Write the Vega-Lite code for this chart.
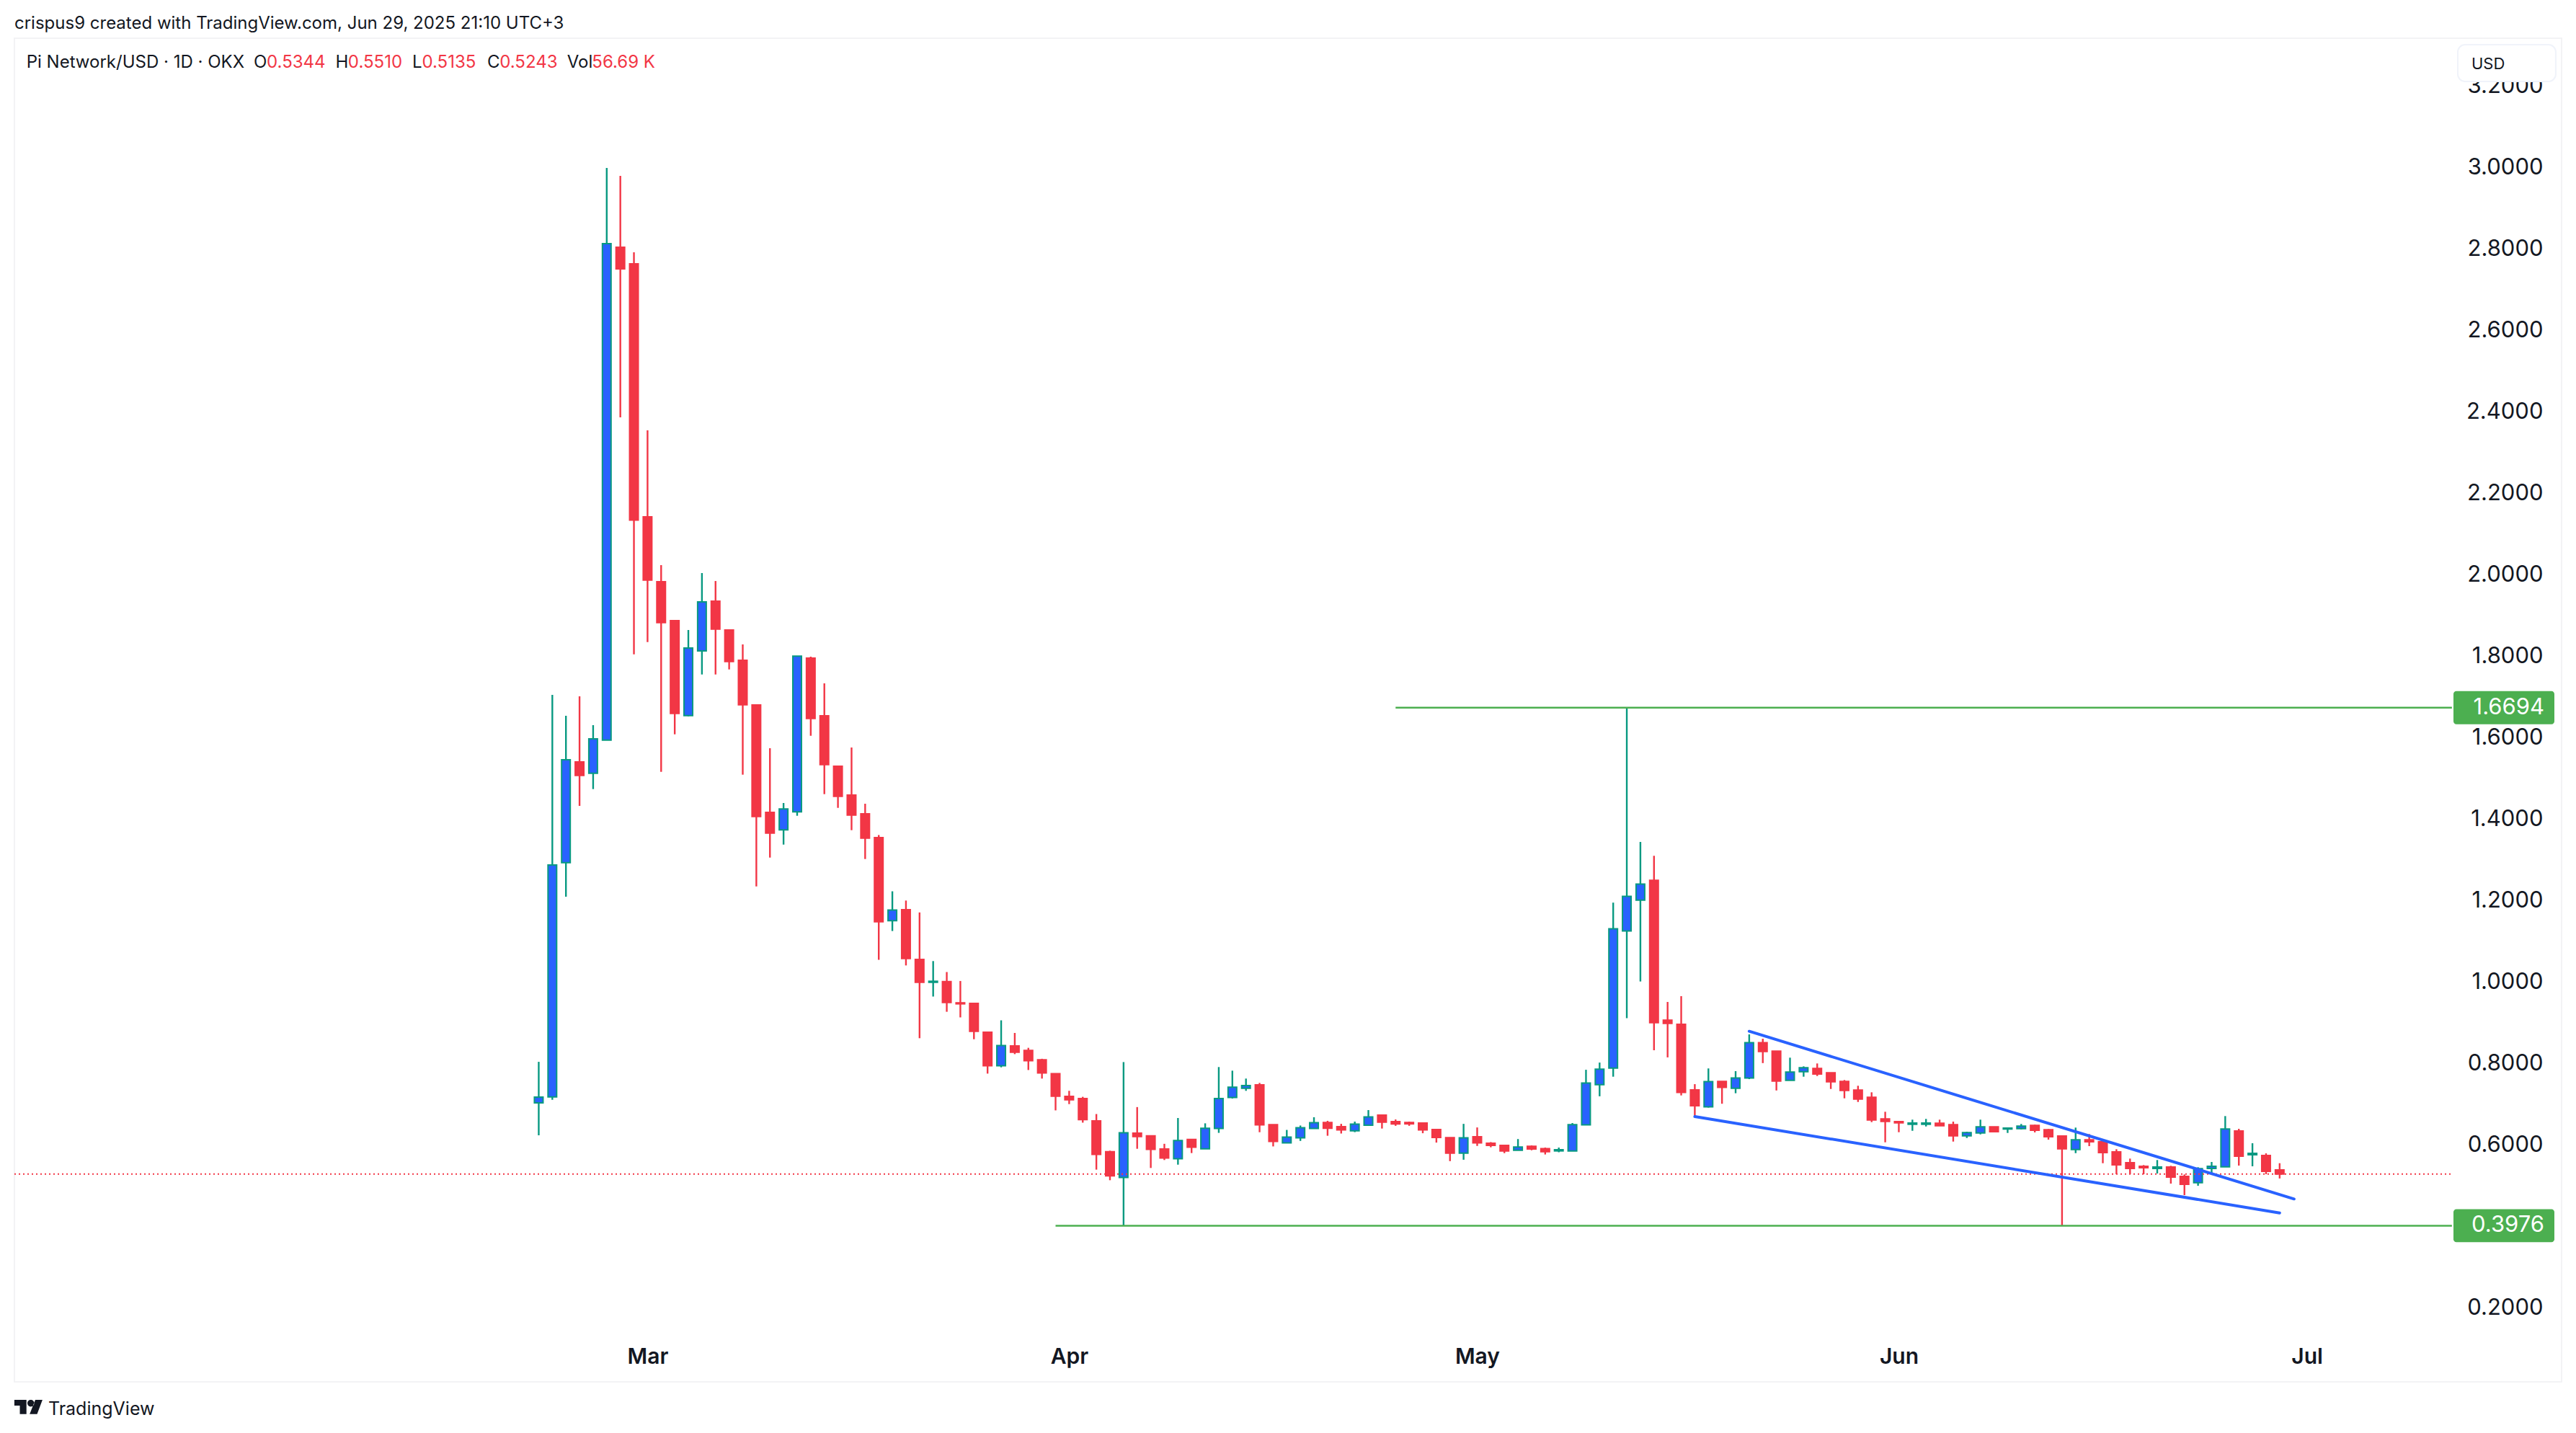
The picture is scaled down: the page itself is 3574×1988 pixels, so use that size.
{
  "$schema": "https://vega.github.io/schema/vega-lite/v6.json",
  "autosize": {"type": "none"},
  "padding": {"left": 20, "top": 53, "right": 20, "bottom": 71},
  "width": 3534,
  "height": 1864,
  "background": "#ffffff",
  "title": {
    "text": "crispus9 created with TradingView.com, Jun 29, 2025 21:10 UTC+3",
    "anchor": "start",
    "frame": "group",
    "offset": 8,
    "font": "Inter",
    "fontSize": 24,
    "fontWeight": 400,
    "color": "#131722"
  },
  "config": {
    "view": {"stroke": "#F3F3F5", "strokeWidth": 2, "fill": "#ffffff"},
    "text": {"font": "Inter"}
  },
  "datasets": {
    "candles": [
      {"d":"2025-02-21","open":0.6991,"high":0.7999,"low":0.6195,"close":0.7133},
      {"d":"2025-02-22","open":0.7138,"high":1.7009,"low":0.7067,"close":1.2832},
      {"d":"2025-02-23","open":1.2890,"high":1.6496,"low":1.2053,"close":1.5416},
      {"d":"2025-02-24","open":1.5363,"high":1.6974,"low":1.4283,"close":1.5032},
      {"d":"2025-02-25","open":1.5085,"high":1.6266,"low":1.4696,"close":1.5929},
      {"d":"2025-02-26","open":1.5899,"high":2.9947,"low":1.5899,"close":2.8089},
      {"d":"2025-02-27","open":2.8002,"high":2.9752,"low":2.3823,"close":2.7469},
      {"d":"2025-02-28","open":2.7593,"high":2.7876,"low":1.8005,"close":2.1301},
      {"d":"2025-03-01","open":2.1381,"high":2.3504,"low":1.8306,"close":1.9828},
      {"d":"2025-03-02","open":1.9788,"high":2.0195,"low":1.5120,"close":1.8784},
      {"d":"2025-03-03","open":1.8832,"high":1.8832,"low":1.6041,"close":1.6554},
      {"d":"2025-03-04","open":1.6501,"high":1.8602,"low":1.6483,"close":1.8159},
      {"d":"2025-03-05","open":1.8089,"high":2.0000,"low":1.7510,"close":1.9292},
      {"d":"2025-03-06","open":1.9310,"high":1.9805,"low":1.7510,"close":1.8625},
      {"d":"2025-03-07","open":1.8602,"high":1.8602,"low":1.7634,"close":1.7828},
      {"d":"2025-03-08","open":1.7858,"high":1.8248,"low":1.5050,"close":1.6766},
      {"d":"2025-03-09","open":1.6761,"high":1.6761,"low":1.2306,"close":1.4023},
      {"d":"2025-03-10","open":1.4124,"high":1.5699,"low":1.3014,"close":1.3616},
      {"d":"2025-03-11","open":1.3694,"high":1.4354,"low":1.3333,"close":1.4207},
      {"d":"2025-03-12","open":1.4136,"high":1.7959,"low":1.4041,"close":1.7959},
      {"d":"2025-03-13","open":1.7912,"high":1.7947,"low":1.6005,"close":1.6430},
      {"d":"2025-03-14","open":1.6496,"high":1.7292,"low":1.4572,"close":1.5297},
      {"d":"2025-03-15","open":1.5257,"high":1.5257,"low":1.4235,"close":1.4519},
      {"d":"2025-03-16","open":1.4549,"high":1.5717,"low":1.3687,"close":1.4058},
      {"d":"2025-03-17","open":1.4089,"high":1.4336,"low":1.2979,"close":1.3492},
      {"d":"2025-03-18","open":1.3504,"high":1.3568,"low":1.0504,"close":1.1439},
      {"d":"2025-03-19","open":1.1464,"high":1.2186,"low":1.1211,"close":1.1724},
      {"d":"2025-03-20","open":1.1735,"high":1.1959,"low":1.0366,"close":1.0536},
      {"d":"2025-03-21","open":1.0513,"high":1.1667,"low":0.8579,"close":0.9952},
      {"d":"2025-03-22","open":0.9952,"high":1.0473,"low":0.9602,"close":0.9977},
      {"d":"2025-03-23","open":0.9968,"high":1.0204,"low":0.9228,"close":0.9457},
      {"d":"2025-03-24","open":0.9448,"high":0.9984,"low":0.9090,"close":0.9423},
      {"d":"2025-03-25","open":0.9432,"high":0.9448,"low":0.8554,"close":0.8749},
      {"d":"2025-03-26","open":0.8726,"high":0.8726,"low":0.7710,"close":0.7904},
      {"d":"2025-03-27","open":0.7904,"high":0.9018,"low":0.7864,"close":0.8400},
      {"d":"2025-03-28","open":0.8391,"high":0.8708,"low":0.8188,"close":0.8237},
      {"d":"2025-03-29","open":0.8278,"high":0.8343,"low":0.7798,"close":0.8027},
      {"d":"2025-03-30","open":0.8050,"high":0.8074,"low":0.7588,"close":0.7726},
      {"d":"2025-03-31","open":0.7710,"high":0.7710,"low":0.6807,"close":0.7155},
      {"d":"2025-04-01","open":0.7149,"high":0.7287,"low":0.6961,"close":0.7067},
      {"d":"2025-04-02","open":0.7099,"high":0.7140,"low":0.6506,"close":0.6579},
      {"d":"2025-04-03","open":0.6549,"high":0.6717,"low":0.5352,"close":0.5726},
      {"d":"2025-04-04","open":0.5791,"high":0.5816,"low":0.5092,"close":0.5198},
      {"d":"2025-04-05","open":0.5158,"high":0.7993,"low":0.3976,"close":0.6255},
      {"d":"2025-04-06","open":0.6248,"high":0.6888,"low":0.5864,"close":0.6165},
      {"d":"2025-04-07","open":0.6181,"high":0.6181,"low":0.5393,"close":0.5848},
      {"d":"2025-04-08","open":0.5857,"high":0.5986,"low":0.5588,"close":0.5637},
      {"d":"2025-04-09","open":0.5621,"high":0.6620,"low":0.5474,"close":0.6067},
      {"d":"2025-04-10","open":0.6092,"high":0.6092,"low":0.5759,"close":0.5904},
      {"d":"2025-04-11","open":0.5864,"high":0.6489,"low":0.5864,"close":0.6368},
      {"d":"2025-04-12","open":0.6361,"high":0.7871,"low":0.6255,"close":0.7099},
      {"d":"2025-04-13","open":0.7124,"high":0.7782,"low":0.7099,"close":0.7375},
      {"d":"2025-04-14","open":0.7352,"high":0.7588,"low":0.7287,"close":0.7416},
      {"d":"2025-04-15","open":0.7434,"high":0.7481,"low":0.6271,"close":0.6450},
      {"d":"2025-04-16","open":0.6458,"high":0.6458,"low":0.5922,"close":0.6043},
      {"d":"2025-04-17","open":0.6011,"high":0.6327,"low":0.6011,"close":0.6149},
      {"d":"2025-04-18","open":0.6131,"high":0.6435,"low":0.6057,"close":0.6381},
      {"d":"2025-04-19","open":0.6361,"high":0.6639,"low":0.6361,"close":0.6503},
      {"d":"2025-04-20","open":0.6510,"high":0.6550,"low":0.6184,"close":0.6368},
      {"d":"2025-04-21","open":0.6409,"high":0.6476,"low":0.6239,"close":0.6327},
      {"d":"2025-04-22","open":0.6306,"high":0.6531,"low":0.6273,"close":0.6469},
      {"d":"2025-04-23","open":0.6443,"high":0.6814,"low":0.6428,"close":0.6646},
      {"d":"2025-04-24","open":0.6692,"high":0.6706,"low":0.6361,"close":0.6517},
      {"d":"2025-04-25","open":0.6531,"high":0.6584,"low":0.6428,"close":0.6476},
      {"d":"2025-04-26","open":0.6510,"high":0.6531,"low":0.6428,"close":0.6476},
      {"d":"2025-04-27","open":0.6496,"high":0.6496,"low":0.6246,"close":0.6327},
      {"d":"2025-04-28","open":0.6335,"high":0.6335,"low":0.6016,"close":0.6143},
      {"d":"2025-04-29","open":0.6136,"high":0.6136,"low":0.5561,"close":0.5757},
      {"d":"2025-04-30","open":0.5757,"high":0.6476,"low":0.5595,"close":0.6131},
      {"d":"2025-05-01","open":0.6158,"high":0.6388,"low":0.5934,"close":0.6009},
      {"d":"2025-05-02","open":0.6002,"high":0.6028,"low":0.5901,"close":0.5947},
      {"d":"2025-05-03","open":0.5947,"high":0.5961,"low":0.5757,"close":0.5812},
      {"d":"2025-05-04","open":0.5827,"high":0.6103,"low":0.5827,"close":0.5908},
      {"d":"2025-05-05","open":0.5927,"high":0.5947,"low":0.5827,"close":0.5860},
      {"d":"2025-05-06","open":0.5867,"high":0.5894,"low":0.5724,"close":0.5791},
      {"d":"2025-05-07","open":0.5812,"high":0.5894,"low":0.5779,"close":0.5841},
      {"d":"2025-05-08","open":0.5812,"high":0.6496,"low":0.5812,"close":0.6455},
      {"d":"2025-05-09","open":0.6450,"high":0.7804,"low":0.6450,"close":0.7478},
      {"d":"2025-05-10","open":0.7437,"high":0.7981,"low":0.7153,"close":0.7818},
      {"d":"2025-05-11","open":0.7844,"high":1.1908,"low":0.7634,"close":1.1266},
      {"d":"2025-05-12","open":1.1211,"high":1.6694,"low":0.9071,"close":1.2064},
      {"d":"2025-05-13","open":1.1970,"high":1.3398,"low":0.9972,"close":1.2363},
      {"d":"2025-05-14","open":1.2457,"high":1.3060,"low":0.8285,"close":0.8961},
      {"d":"2025-05-15","open":0.9023,"high":0.9469,"low":0.8108,"close":0.8942},
      {"d":"2025-05-16","open":0.8920,"high":0.9612,"low":0.7174,"close":0.7248},
      {"d":"2025-05-17","open":0.7310,"high":0.7451,"low":0.6655,"close":0.6922},
      {"d":"2025-05-18","open":0.6896,"high":0.7837,"low":0.6876,"close":0.7512},
      {"d":"2025-05-19","open":0.7519,"high":0.7519,"low":0.6970,"close":0.7370},
      {"d":"2025-05-20","open":0.7350,"high":0.7770,"low":0.7228,"close":0.7602},
      {"d":"2025-05-21","open":0.7600,"high":0.8673,"low":0.7575,"close":0.8469},
      {"d":"2025-05-22","open":0.8469,"high":0.8566,"low":0.7968,"close":0.8251},
      {"d":"2025-05-23","open":0.8260,"high":0.8260,"low":0.7296,"close":0.7526},
      {"d":"2025-05-24","open":0.7545,"high":0.8101,"low":0.7545,"close":0.7747},
      {"d":"2025-05-25","open":0.7758,"high":0.7888,"low":0.7634,"close":0.7853},
      {"d":"2025-05-26","open":0.7835,"high":0.7959,"low":0.7651,"close":0.7699},
      {"d":"2025-05-27","open":0.7729,"high":0.7729,"low":0.7333,"close":0.7510},
      {"d":"2025-05-28","open":0.7517,"high":0.7552,"low":0.7103,"close":0.7297},
      {"d":"2025-05-29","open":0.7304,"high":0.7411,"low":0.7014,"close":0.7085},
      {"d":"2025-05-30","open":0.7127,"high":0.7251,"low":0.6519,"close":0.6572},
      {"d":"2025-05-31","open":0.6597,"high":0.6773,"low":0.6023,"close":0.6536},
      {"d":"2025-06-01","open":0.6531,"high":0.6531,"low":0.6271,"close":0.6501},
      {"d":"2025-06-02","open":0.6466,"high":0.6579,"low":0.6306,"close":0.6496},
      {"d":"2025-06-03","open":0.6466,"high":0.6597,"low":0.6412,"close":0.6496},
      {"d":"2025-06-04","open":0.6490,"high":0.6579,"low":0.6430,"close":0.6430},
      {"d":"2025-06-05","open":0.6455,"high":0.6531,"low":0.6041,"close":0.6182},
      {"d":"2025-06-06","open":0.6182,"high":0.6283,"low":0.6129,"close":0.6260},
      {"d":"2025-06-07","open":0.6253,"high":0.6579,"low":0.6218,"close":0.6402},
      {"d":"2025-06-08","open":0.6402,"high":0.6402,"low":0.6266,"close":0.6283},
      {"d":"2025-06-09","open":0.6349,"high":0.6384,"low":0.6253,"close":0.6372},
      {"d":"2025-06-10","open":0.6359,"high":0.6473,"low":0.6342,"close":0.6420},
      {"d":"2025-06-11","open":0.6437,"high":0.6455,"low":0.6266,"close":0.6319},
      {"d":"2025-06-12","open":0.6331,"high":0.6349,"low":0.6089,"close":0.6159},
      {"d":"2025-06-13","open":0.6177,"high":0.6177,"low":0.3976,"close":0.5864},
      {"d":"2025-06-14","open":0.5846,"high":0.6384,"low":0.5757,"close":0.6083},
      {"d":"2025-06-15","open":0.6083,"high":0.6225,"low":0.5929,"close":0.6035},
      {"d":"2025-06-16","open":0.6035,"high":0.6076,"low":0.5510,"close":0.5770},
      {"d":"2025-06-17","open":0.5788,"high":0.5853,"low":0.5239,"close":0.5469},
      {"d":"2025-06-18","open":0.5522,"high":0.5623,"low":0.5239,"close":0.5381},
      {"d":"2025-06-19","open":0.5434,"high":0.5464,"low":0.5239,"close":0.5398},
      {"d":"2025-06-20","open":0.5381,"high":0.5588,"low":0.5257,"close":0.5416},
      {"d":"2025-06-21","open":0.5416,"high":0.5446,"low":0.5009,"close":0.5168},
      {"d":"2025-06-22","open":0.5186,"high":0.5234,"low":0.4726,"close":0.4991},
      {"d":"2025-06-23","open":0.5032,"high":0.5411,"low":0.4956,"close":0.5375},
      {"d":"2025-06-24","open":0.5381,"high":0.5540,"low":0.5234,"close":0.5434},
      {"d":"2025-06-25","open":0.5421,"high":0.6667,"low":0.5421,"close":0.6349},
      {"d":"2025-06-26","open":0.6301,"high":0.6354,"low":0.5451,"close":0.5681},
      {"d":"2025-06-27","open":0.5717,"high":0.6000,"low":0.5434,"close":0.5752},
      {"d":"2025-06-28","open":0.5699,"high":0.5752,"low":0.5239,"close":0.5310},
      {"d":"2025-06-29","open":0.5344,"high":0.5510,"low":0.5135,"close":0.5243}
    ],
    "levels": [
      {"start":"2025-04-25","end":"2025-07-11T16:00:00Z","price":1.6694},
      {"start":"2025-03-31","end":"2025-07-11T16:00:00Z","price":0.3976}
    ],
    "trend": [
      {"line":"upper","d":"2025-05-21","p":0.8749},
      {"line":"upper","d":"2025-06-30T01:30:00Z","p":0.4632},
      {"line":"lower","d":"2025-05-17","p":0.6655},
      {"line":"lower","d":"2025-06-29","p":0.4289}
    ],
    "tags": [
      {"start":"2025-07-11T18:43:00Z","end":"2025-07-19T04:48:00Z","low":1.6287,"high":1.7101,"at":"2025-07-18T11:00:00Z","price":1.6694,"label":"1.6694"},
      {"start":"2025-07-11T18:43:00Z","end":"2025-07-19T04:48:00Z","low":0.3569,"high":0.4383,"at":"2025-07-18T11:00:00Z","price":0.3976,"label":"0.3976"}
    ],
    "header": [
      {"t":"Pi Network/USD · 1D · OKX","d":"2025-01-14T08:00:00Z","p":3.253,"kind":"name"},
      {"t":"O","d":"2025-01-31T01:00:00Z","p":3.253,"kind":"name"},
      {"t":"0.5344","d":"2025-02-01T00:00:00Z","p":3.253,"kind":"value"},
      {"t":"H","d":"2025-02-06T01:30:00Z","p":3.253,"kind":"name"},
      {"t":"0.5510","d":"2025-02-06T23:30:00Z","p":3.253,"kind":"value"},
      {"t":"L","d":"2025-02-11T17:00:00Z","p":3.253,"kind":"name"},
      {"t":"0.5135","d":"2025-02-12T10:00:00Z","p":3.253,"kind":"value"},
      {"t":"C","d":"2025-02-17T05:00:00Z","p":3.253,"kind":"name"},
      {"t":"0.5243","d":"2025-02-18T03:00:00Z","p":3.253,"kind":"value"},
      {"t":"Vol","d":"2025-02-23T02:00:00Z","p":3.253,"kind":"name"},
      {"t":"56.69 K","d":"2025-02-24T22:00:00Z","p":3.253,"kind":"value"}
    ]
  },
  "layer": [
    {
      "data": {"name": "candles"},
      "mark": {"type": "rule", "strokeWidth": 2.4},
      "encoding": {
        "x": {
          "field": "d",
          "type": "temporal",
          "title": null,
          "scale": {"type": "utc", "domain": ["2025-01-13T10:48:00Z", "2025-07-19T17:31:00Z"], "nice": false, "padding": 0},
          "axis": {
            "title": null,
            "orient": "bottom",
            "values": ["2025-03-01T00:00:00Z", "2025-04-01T00:00:00Z", "2025-05-01T00:00:00Z", "2025-06-01T00:00:00Z", "2025-07-01T00:00:00Z"],
            "format": "%b",
            "domain": false,
            "grid": false,
            "ticks": false,
            "tickSize": 0,
            "labelPadding": -35,
            "labelBaseline": "middle",
            "labelAlign": "center",
            "labelFont": "Inter",
            "labelFontSize": 30,
            "labelFontWeight": 600,
            "labelColor": "#131722",
            "labelOverlap": false,
            "labelFlush": false,
            "labelBound": false
          }
        },
        "y": {
          "field": "low",
          "type": "quantitative",
          "title": null,
          "scale": {"domain": [0.0142, 3.3133], "nice": false, "zero": false},
          "axis": {
            "title": null,
            "orient": "right",
            "values": [0.2, 0.4, 0.6, 0.8, 1.0, 1.2, 1.4, 1.6, 1.8, 2.0, 2.2, 2.4, 2.6, 2.8, 3.0, 3.2],
            "format": ".4f",
            "domain": false,
            "grid": false,
            "ticks": false,
            "tickSize": 0,
            "labelPadding": -26,
            "labelOffset": 2,
            "labelAlign": "right",
            "labelBaseline": "middle",
            "labelFont": "Inter",
            "labelFontSize": 31,
            "labelColor": "#131722",
            "labelOverlap": false,
            "labelFlush": false,
            "labelBound": false
          }
        },
        "y2": {"field": "high"},
        "color": {"condition": {"test": "datum.close >= datum.open", "value": "#089981"}, "value": "#F23645"}
      }
    },
    {
      "data": {"name": "candles"},
      "mark": {"type": "bar", "size": 12, "strokeWidth": 2},
      "encoding": {
        "x": {"field": "d", "type": "temporal", "title": null},
        "y": {"field": "open", "type": "quantitative", "title": null},
        "y2": {"field": "close"},
        "fill": {"condition": {"test": "datum.close >= datum.open", "value": "#2962FF"}, "value": "#F23645"},
        "stroke": {"condition": {"test": "datum.close >= datum.open", "value": "#089981"}, "value": "#F23645"}
      }
    },
    {
      "data": {"values": [{"start": "2025-01-13T10:48:00Z", "end": "2025-07-11T16:00:00Z", "price": 0.5243}]},
      "mark": {"type": "rule", "strokeWidth": 2, "strokeDash": [2, 4], "color": "#F23645"},
      "encoding": {
        "x": {"field": "start", "type": "temporal", "title": null},
        "x2": {"field": "end"},
        "y": {"field": "price", "type": "quantitative", "title": null}
      }
    },
    {
      "data": {"name": "levels"},
      "mark": {"type": "rule", "strokeWidth": 2.5, "color": "#4CAF50"},
      "encoding": {
        "x": {"field": "start", "type": "temporal", "title": null},
        "x2": {"field": "end"},
        "y": {"field": "price", "type": "quantitative", "title": null}
      }
    },
    {
      "data": {"name": "trend"},
      "mark": {"type": "line", "strokeWidth": 4, "strokeCap": "round", "color": "#2962FF"},
      "encoding": {
        "x": {"field": "d", "type": "temporal", "title": null},
        "y": {"field": "p", "type": "quantitative", "title": null},
        "detail": {"field": "line"}
      }
    },
    {
      "data": {"name": "tags"},
      "mark": {"type": "rect", "color": "#4CAF50", "cornerRadius": 4},
      "encoding": {
        "x": {"field": "start", "type": "temporal", "title": null},
        "x2": {"field": "end"},
        "y": {"field": "low", "type": "quantitative", "title": null},
        "y2": {"field": "high"}
      }
    },
    {
      "data": {"name": "tags"},
      "mark": {"type": "text", "align": "right", "baseline": "middle", "font": "Inter", "fontSize": 31, "color": "#ffffff"},
      "encoding": {
        "x": {"field": "at", "type": "temporal", "title": null},
        "y": {"field": "price", "type": "quantitative", "title": null},
        "text": {"field": "label"}
      }
    },
    {
      "data": {"name": "header"},
      "mark": {"type": "text", "align": "left", "baseline": "middle", "font": "Inter", "fontSize": 24},
      "encoding": {
        "x": {"field": "d", "type": "temporal", "title": null},
        "y": {"field": "p", "type": "quantitative", "title": null},
        "text": {"field": "t"},
        "color": {"field": "kind", "type": "nominal", "scale": {"domain": ["name", "value"], "range": ["#131722", "#F23645"]}, "legend": null}
      }
    },
    {
      "data": {"values": [{"start": "2025-07-12T02:24:00Z", "end": "2025-07-19T07:12:00Z", "low": 3.2071, "high": 3.2973}]},
      "mark": {"type": "rect", "fill": "#ffffff", "stroke": "#F0F3FA", "strokeWidth": 2, "cornerRadius": 10},
      "encoding": {
        "x": {"field": "start", "type": "temporal", "title": null},
        "x2": {"field": "end"},
        "y": {"field": "low", "type": "quantitative", "title": null},
        "y2": {"field": "high"}
      }
    },
    {
      "data": {"values": [{"t": "USD", "d": "2025-07-13T02:24:00Z", "p": 3.2495}]},
      "mark": {"type": "text", "align": "left", "baseline": "middle", "font": "Inter", "fontSize": 22, "color": "#131722"},
      "encoding": {
        "x": {"field": "d", "type": "temporal", "title": null},
        "y": {"field": "p", "type": "quantitative", "title": null},
        "text": {"field": "t"}
      }
    },
    {
      "data": {"values": [{"d": "2025-01-14T11:30:00Z", "p": -0.0478}]},
      "mark": {
        "type": "point",
        "filled": true,
        "opacity": 1,
        "size": 1521,
        "color": "#131722",
        "shape": "M-1,-0.51H-0.14V0.5H-0.61V-0.1H-1Z M0.49,-0.51H1L0.62,0.5H0.09Z M-0.07,-0.27a0.24,0.24 0 1,0 0.48,0a0.24,0.24 0 1,0 -0.48,0Z"
      },
      "encoding": {
        "x": {"field": "d", "type": "temporal", "title": null},
        "y": {"field": "p", "type": "quantitative", "title": null}
      }
    },
    {
      "data": {"values": [{"t": "TradingView", "d": "2025-01-15T22:30:00Z", "p": -0.0531}]},
      "mark": {"type": "text", "align": "left", "baseline": "middle", "font": "Inter", "fontSize": 25, "color": "#131722"},
      "encoding": {
        "x": {"field": "d", "type": "temporal", "title": null},
        "y": {"field": "p", "type": "quantitative", "title": null},
        "text": {"field": "t"}
      }
    }
  ]
}
